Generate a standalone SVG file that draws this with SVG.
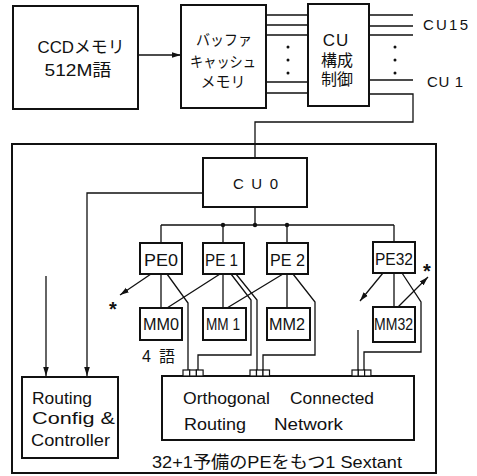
<svg xmlns="http://www.w3.org/2000/svg" width="477" height="476" viewBox="0 0 477 476">
<style>
text{font-family:"Liberation Sans","Noto Sans CJK JP",sans-serif;fill:#111;dominant-baseline:central}
.box{fill:#fff;stroke:#111;stroke-width:2}
.ln{fill:none;stroke:#111;stroke-width:1.3}
.port{fill:#fff;stroke:#111;stroke-width:1.2}
.j{font-size:15px}
.m{text-anchor:middle}
.ast{font-size:20px;text-anchor:middle;font-weight:bold}
</style>
<defs>
<marker id="arr" markerUnits="userSpaceOnUse" markerWidth="10" markerHeight="8" refX="9" refY="4" orient="auto">
<path d="M0,1.2 L9,4 L0,6.8 Z" fill="#111"/>
</marker>
</defs>
<rect width="477" height="476" fill="#fff"/>
<g id="connectors">
<line class="ln" x1="138" y1="55" x2="181" y2="55" marker-end="url(#arr)"/>
<path class="ln" d="M266,15H308M266,25H308M266,35H308M266,82H308M266,93H308"/>
<path class="ln" d="M369,15H413M369,26H413M369,35H413M369,80H413"/>
<path class="ln" d="M369,94H413V122H255V158"/>
<path class="ln" d="M255,207V225M161,225H394M161,225V243M223,225V243M287,225V243M394,225V242"/>
<circle cx="223" cy="225" r="2.2" fill="#111"/>
<circle cx="255" cy="225" r="2.2" fill="#111"/>
<circle cx="287" cy="225" r="2.2" fill="#111"/>
<path class="ln" d="M203,193H87V376" marker-end="url(#arr)"/>
<line class="ln" x1="46" y1="276" x2="46" y2="376" marker-end="url(#arr)"/>
<path class="ln" d="M161,274V308M223,274V308M287,274V308M394,273V307"/>
<path class="ln" d="M220,274L167,308M283,274L227,308"/>
<line class="ln" x1="151" y1="274" x2="120" y2="295" marker-end="url(#arr)"/>
<path class="ln" d="M167,274L188,303V370"/>
<path class="ln" d="M231,274L251,300V355H198V370"/>
<path class="ln" d="M236,274L257,300V370"/>
<path class="ln" d="M293,274L315,302V355H263V370"/>
<line class="ln" x1="383" y1="273" x2="360" y2="301" marker-end="url(#arr)"/>
<line class="ln" x1="398" y1="307" x2="428" y2="277" marker-end="url(#arr)"/>
<path class="ln" d="M402,273L421,302V352H364V370"/>
<line class="ln" x1="358" y1="330" x2="358" y2="370"/>
<g fill="#111">
<circle cx="288" cy="47" r="1.5"/><circle cx="288" cy="60" r="1.5"/><circle cx="288" cy="73" r="1.5"/>
<circle cx="395" cy="47" r="1.5"/><circle cx="395" cy="60" r="1.5"/><circle cx="395" cy="73" r="1.5"/>
</g>
<text x="423" y="24" font-size="15" textLength="45" lengthAdjust="spacing">CU15</text>
<text x="427" y="81" font-size="15" textLength="36" lengthAdjust="spacing">CU 1</text>
<text x="113" y="309" class="ast">*</text>
<text x="427" y="271" class="ast">*</text>
</g>
<g id="sextant">
<rect class="box" x="12" y="144" width="424" height="329" style="fill:none"/>
<text x="152" y="462" font-size="17" textLength="250" lengthAdjust="spacingAndGlyphs">32+1予備のPEをもつ1 Sextant</text>
</g>
<g id="ccd">
<rect class="box" x="13" y="6" width="125" height="103"/>
<text x="81" y="47" font-size="17" class="m" textLength="87" lengthAdjust="spacingAndGlyphs">CCDメモリ</text>
<text x="78" y="70" font-size="17" class="m" textLength="67" lengthAdjust="spacingAndGlyphs">512M語</text>
</g>
<g id="buffer">
<rect class="box" x="181" y="5" width="85" height="103"/>
<text x="224" y="39" class="j m" textLength="56" lengthAdjust="spacingAndGlyphs">バッファ</text>
<text x="223" y="61" class="j m" textLength="66" lengthAdjust="spacingAndGlyphs">キャッシュ</text>
<text x="223" y="81" class="j m">メモリ</text>
</g>
<g id="cuctl">
<rect class="box" x="308" y="4" width="61" height="102"/>
<text x="336" y="40" font-size="17" class="m" letter-spacing="1">CU</text>
<text x="337" y="60" font-size="16" class="m">構成</text>
<text x="337" y="79" font-size="16" class="m">制御</text>
</g>
<g id="cu0">
<rect class="box" x="203" y="158" width="104" height="49"/>
<text x="233" y="183" font-size="15" textLength="45" lengthAdjust="spacing">CU0</text>
</g>
<g id="pe0"><rect class="box" x="140" y="243" width="42" height="31"/><text x="144" y="260" font-size="17" textLength="34" lengthAdjust="spacingAndGlyphs">PE0</text></g>
<g id="pe1"><rect class="box" x="203" y="243" width="41" height="31"/><text x="205" y="260" font-size="17" textLength="33" lengthAdjust="spacingAndGlyphs">PE 1</text></g>
<g id="pe2"><rect class="box" x="267" y="243" width="41" height="31"/><text x="270" y="260" font-size="17" textLength="35" lengthAdjust="spacingAndGlyphs">PE 2</text></g>
<g id="pe32"><rect class="box" x="373" y="242" width="42" height="31"/><text x="375" y="259" font-size="17" textLength="38" lengthAdjust="spacingAndGlyphs">PE32</text></g>
<g id="mm0"><rect class="box" x="140" y="308" width="42" height="32"/><text x="143" y="324" font-size="16" textLength="36" lengthAdjust="spacingAndGlyphs">MM0</text></g>
<g id="mm1"><rect class="box" x="203" y="308" width="43" height="32"/><text x="206" y="324" font-size="16" textLength="34" lengthAdjust="spacingAndGlyphs">MM 1</text></g>
<g id="mm2"><rect class="box" x="267" y="308" width="43" height="32"/><text x="269" y="324" font-size="16" textLength="36" lengthAdjust="spacingAndGlyphs">MM2</text></g>
<g id="mm32"><rect class="box" x="373" y="307" width="42" height="35"/><text x="374" y="324" font-size="16" textLength="39" lengthAdjust="spacingAndGlyphs">MM32</text></g>
<text x="142" y="356" font-size="16" textLength="33" lengthAdjust="spacing">4語</text>
<g id="routing">
<rect class="box" x="22" y="377" width="96" height="81"/>
<text x="32" y="398" font-size="17" textLength="60" lengthAdjust="spacingAndGlyphs">Routing</text>
<text x="32" y="418" font-size="17" textLength="83" lengthAdjust="spacingAndGlyphs">Config &amp;</text>
<text x="31" y="440" font-size="17" textLength="79" lengthAdjust="spacingAndGlyphs">Controller</text>
</g>
<g id="network">
<rect class="box" x="162" y="376" width="252" height="64"/>
<g>
<rect class="port" x="183" y="370" width="6.7" height="6"/><rect class="port" x="189.7" y="370" width="6.7" height="6"/><rect class="port" x="196.4" y="370" width="6.7" height="6"/>
<rect class="port" x="250" y="370" width="6.5" height="6"/><rect class="port" x="256.5" y="370" width="6.5" height="6"/><rect class="port" x="263" y="370" width="6.5" height="6"/>
<rect class="port" x="352" y="370" width="6.3" height="6"/><rect class="port" x="358.3" y="370" width="6.3" height="6"/><rect class="port" x="364.6" y="370" width="6.3" height="6"/>
</g>
<text x="183" y="398" font-size="17" textLength="87" lengthAdjust="spacingAndGlyphs">Orthogonal</text>
<text x="290" y="398" font-size="17" textLength="84" lengthAdjust="spacingAndGlyphs">Connected</text>
<text x="184" y="424" font-size="17" textLength="62" lengthAdjust="spacingAndGlyphs">Routing</text>
<text x="274" y="424" font-size="17" textLength="69" lengthAdjust="spacingAndGlyphs">Network</text>
</g>
</svg>
